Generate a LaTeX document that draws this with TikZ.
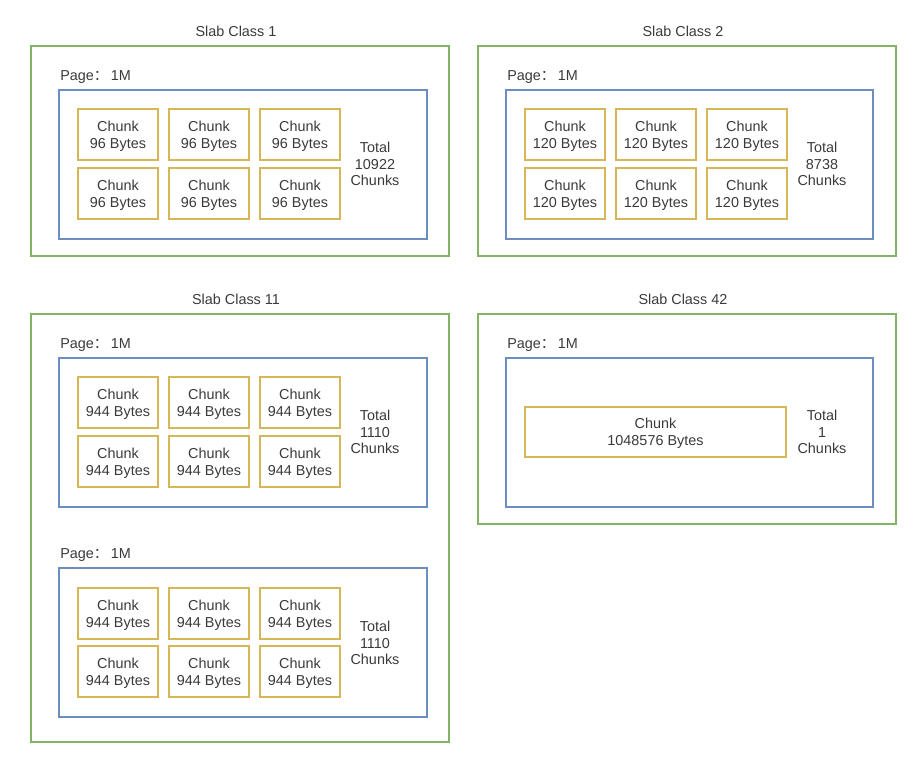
\documentclass[tikz,border=0pt]{standalone}
\usepackage{fontspec}
\setmainfont{Liberation Sans}
\newfontfamily\cjk{Noto Sans CJK SC}
\usetikzlibrary{fit}
\definecolor{slabgreen}{HTML}{82B366}
\definecolor{pageblue}{HTML}{6C8EBF}
\definecolor{chunkgold}{HTML}{D6B656}
\definecolor{txt}{HTML}{3A3A3A}
\tikzset{
  box/.style={inner sep=0pt, outer sep=0pt, text=txt, align=center},
  slab/.style={box, draw=slabgreen, line width=0.85pt},
  pagebox/.style={box, draw=pageblue, line width=0.85pt},
  chunkbox/.style={box, draw=chunkgold, line width=1.2pt},
  lbl/.style={text=txt, inner sep=0pt, font=\fontsize{10.8}{12.6}\selectfont, align=center},
  clbl/.style={lbl, yshift=-1.2pt},
}
\newcommand{\pagelbl}{Page{\cjk ：}\hspace{2pt}1M}
\begin{document}
\begin{tikzpicture}[x=0.75pt,y=-0.75pt]
\useasboundingbox (0,0) rectangle (921,775);
% Slab Class 1
\node[lbl] (t1) at (236,31) {Slab Class 1};
\node[slab, fit={(31,46)(449,256)}] (s1) {};
\node[lbl, anchor=west] (p1l) at (60,77) {\pagelbl};
\node[pagebox, fit={(59,90)(427,239)}] (p1) {};
\foreach \c/\x in {1/78,2/169,3/260}{
  \node[chunkbox, fit={(\x,109)(\x+80,160)}, label={[clbl]center:Chunk\\96 Bytes}] (c1a\c) {};
  \node[chunkbox, fit={(\x,168)(\x+80,219)}, label={[clbl]center:Chunk\\96 Bytes}] (c1b\c) {};
}
\node[lbl] (tot1) at (375,164) {Total\\10922\\Chunks};
% Slab Class 2
\node[lbl] (t2) at (683,31) {Slab Class 2};
\node[slab, fit={(478,46)(896,256)}] (s2) {};
\node[lbl, anchor=west] (p2l) at (507,77) {\pagelbl};
\node[pagebox, fit={(506,90)(873,239)}] (p2) {};
\foreach \c/\x in {1/525,2/616,3/707}{
  \node[chunkbox, fit={(\x,109)(\x+80,160)}, label={[clbl]center:Chunk\\120 Bytes}] (c2a\c) {};
  \node[chunkbox, fit={(\x,168)(\x+80,219)}, label={[clbl]center:Chunk\\120 Bytes}] (c2b\c) {};
}
\node[lbl] (tot2) at (822,164) {Total\\8738\\Chunks};
% Slab Class 11
\node[lbl] (t11) at (236,299) {Slab Class 11};
\node[slab, fit={(31,314)(449,742)}] (s11) {};
\node[lbl, anchor=west] (p11l) at (60,345) {\pagelbl};
\node[pagebox, fit={(59,358)(427,507)}] (p11) {};
\foreach \c/\x in {1/78,2/169,3/260}{
  \node[chunkbox, fit={(\x,377)(\x+80,428)}, label={[clbl]center:Chunk\\944 Bytes}] (c11a\c) {};
  \node[chunkbox, fit={(\x,436)(\x+80,487)}, label={[clbl]center:Chunk\\944 Bytes}] (c11b\c) {};
}
\node[lbl] (tot11) at (375,432) {Total\\1110\\Chunks};
\node[lbl, anchor=west] (p12l) at (60,555) {\pagelbl};
\node[pagebox, fit={(59,568)(427,717)}] (p12) {};
\foreach \c/\x in {1/78,2/169,3/260}{
  \node[chunkbox, fit={(\x,588)(\x+80,639)}, label={[clbl]center:Chunk\\944 Bytes}] (c12a\c) {};
  \node[chunkbox, fit={(\x,646)(\x+80,697)}, label={[clbl]center:Chunk\\944 Bytes}] (c12b\c) {};
}
\node[lbl] (tot12) at (375,643) {Total\\1110\\Chunks};
% Slab Class 42
\node[lbl] (t42) at (683,299) {Slab Class 42};
\node[slab, fit={(478,314)(896,524)}] (s42) {};
\node[lbl, anchor=west] (p42l) at (507,345) {\pagelbl};
\node[pagebox, fit={(506,358)(873,507)}] (p42) {};
\node[chunkbox, fit={(525,407)(786,457)}, label={[clbl]center:Chunk\\1048576 Bytes}] (c42) {};
\node[lbl] (tot42) at (822,432) {Total\\1\\Chunks};
\end{tikzpicture}
\end{document}
